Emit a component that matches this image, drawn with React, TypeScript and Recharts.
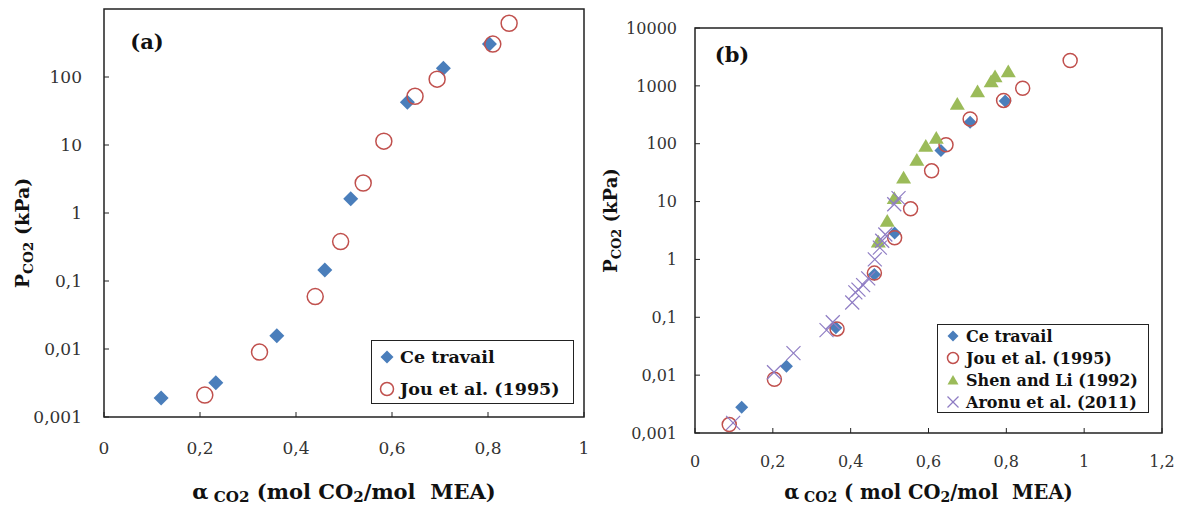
import React from "react";
import { ScatterChart, Scatter, XAxis, YAxis, ReferenceArea, Legend, Label } from "recharts";

// ---- panel (a) ----
const ceAlphaA = [0.119, 0.233, 0.36, 0.46, 0.514, 0.632, 0.707, 0.803];
const cePressA = [0.0019, 0.0032, 0.0157, 0.145, 1.62, 42.5, 134, 305];
const jouAlphaA = [0.21, 0.324, 0.44, 0.493, 0.54, 0.583, 0.648, 0.694, 0.81, 0.844];
const jouPressA = [0.0021, 0.009, 0.059, 0.38, 2.76, 11.4, 52, 93, 305, 616];

// ---- panel (b) ----
const ceAlphaB = [0.12, 0.235, 0.362, 0.461, 0.513, 0.632, 0.707, 0.797];
const cePressB = [0.0028, 0.0143, 0.066, 0.55, 2.85, 76, 234, 545];
const jouAlphaB = [0.088, 0.204, 0.365, 0.461, 0.513, 0.554, 0.608, 0.645, 0.707, 0.793, 0.842, 0.964];
const jouPressB = [0.0014, 0.0085, 0.063, 0.58, 2.37, 7.5, 34, 96, 267, 560, 910, 2740];
const shenAlpha = [0.471, 0.494, 0.512, 0.536, 0.57, 0.593, 0.62, 0.674, 0.726, 0.761, 0.771, 0.805];
const shenPress = [2.04, 4.65, 11.5, 26, 53, 92, 127, 490, 810, 1200, 1470, 1790];
const aronuAlpha = [0.098, 0.203, 0.253, 0.338, 0.354, 0.404, 0.412, 0.42, 0.432, 0.445, 0.462, 0.475, 0.481, 0.489, 0.512, 0.523];
const aronuPress = [0.0015, 0.0112, 0.024, 0.06, 0.082, 0.18, 0.27, 0.3, 0.36, 0.47, 1.0, 1.6, 2.1, 2.7, 9.0, 11.5];

const xTicksA = [0, 0.2, 0.4, 0.6, 0.8, 1];
const yTicksA = [0.001, 0.01, 0.1, 1, 10, 100];
const xTicksB = [0, 0.2, 0.4, 0.6, 0.8, 1, 1.2];
const yTicksB = [0.001, 0.01, 0.1, 1, 10, 100, 1000, 10000];

const CE = "Ce travail";
const JOU = "Jou et al. (1995)";
const SHEN = "Shen and Li (1992)";
const ARONU = "Aronu et al. (2011)";

const BLUE = "#4a7ebb";
const RED = "#c0504d";
const GREEN = "#9bbb59";
const PURPLE = "#8e7cc3";
const INK = "#222";
const SERIF = "'DejaVu Serif', serif";

const toPoints = (xs: number[], ys: number[]) => xs.map((a, i) => ({ alpha: a, p: ys[i] }));
const fmt = (v: number) => String(v).replace(".", ",");

function marker(name: string, cx: number, cy: number, s: number) {
  if (name === CE)
    return <path d={`M${cx},${cy - s}L${cx + s},${cy}L${cx},${cy + s}L${cx - s},${cy}Z`} fill={BLUE} />;
  if (name === JOU)
    return <circle cx={cx} cy={cy} r={s} fill="none" stroke={RED} strokeWidth={1.5} />;
  if (name === SHEN)
    return <path d={`M${cx},${cy - s * 0.9}L${cx + s},${cy + s * 0.8}L${cx - s},${cy + s * 0.8}Z`} fill={GREEN} />;
  return (
    <g stroke={PURPLE} strokeWidth={1.2}>
      <line x1={cx - s} y1={cy - s} x2={cx + s} y2={cy + s} />
      <line x1={cx - s} y1={cy + s} x2={cx + s} y2={cy - s} />
    </g>
  );
}

const shape = (name: string, s: number) => (props: any) => marker(name, props.cx, props.cy, s);

function LegendBox({ payload, order, fontSize, rowH, mark }: any) {
  const items = [...(payload || [])].sort((a: any, b: any) => order.indexOf(a.value) - order.indexOf(b.value));
  return (
    <div style={{ border: `1.5px solid ${INK}`, background: "#fff", boxSizing: "border-box", height: "100%" }}>
      {items.map((e: any) => (
        <div key={e.value} style={{ display: "flex", alignItems: "center", height: rowH, fontFamily: SERIF, fontWeight: "bold", fontSize, color: "#111", whiteSpace: "nowrap" }}>
          <svg width={26} height={rowH} style={{ flex: "none", marginLeft: 2 }}>
            {marker(e.value, 13, rowH / 2, mark)}
          </svg>
          <span>{e.value}</span>
        </div>
      ))}
    </div>
  );
}

function XTitle({ viewBox, dyBase, fontSize, open }: any) {
  const cx = viewBox.x + viewBox.width / 2;
  const y = viewBox.y + dyBase;
  const sub = fontSize * 0.72;
  return (
    <text x={cx} y={y} textAnchor="middle" fontFamily={SERIF} fontWeight="bold" fontSize={fontSize} fill="#111" style={{ whiteSpace: "pre" }}>
      α<tspan fontSize={sub} dy={3}> CO2</tspan>
      <tspan dy={-3}>{` ${open}mol CO`}</tspan>
      <tspan fontSize={sub} dy={3}>2</tspan>
      <tspan dy={-3}>/mol  MEA)</tspan>
    </text>
  );
}

function YTitle({ viewBox, xPos, yShift, fontSize }: any) {
  const x = viewBox.x + xPos;
  const y = viewBox.y + viewBox.height / 2 + yShift;
  const sub = fontSize * 0.72;
  return (
    <text x={x} y={y} transform={`rotate(-90, ${x}, ${y})`} textAnchor="middle" fontFamily={SERIF} fontWeight="bold" fontSize={fontSize} fill="#111">
      P<tspan fontSize={sub} dy={4}>CO2</tspan>
      <tspan dy={-4}> (kPa)</tspan>
    </text>
  );
}

function PanelA() {
  const ce = toPoints(ceAlphaA, cePressA);
  const jou = toPoints(jouAlphaA, jouPressA);
  return (
    <ScatterChart width={590} height={508} margin={{ top: 9, right: 6, bottom: 0, left: 0 }}>
      <ReferenceArea x1={0} x2={1} y1={0.001} y2={1000} fill="none" stroke={INK} strokeWidth={1.5} />
      <XAxis type="number" dataKey="alpha" domain={[0, 1]} ticks={xTicksA} interval={0} height={91}
        tickFormatter={fmt} axisLine={false} tickSize={-5} tickMargin={30} tickLine={{ stroke: INK }}
        tick={{ fill: "#333", fontSize: 17, fontFamily: SERIF }}>
        <Label content={(p: any) => <XTitle {...p} dyBase={82} fontSize={21} open="(" />} />
      </XAxis>
      <YAxis type="number" dataKey="p" scale="log" domain={[0.001, 1000]} allowDataOverflow ticks={yTicksA} interval={0} width={104}
        tickFormatter={fmt} axisLine={false} tickSize={-5} tickMargin={27} tickLine={{ stroke: INK }}
        tick={{ fill: "#333", fontSize: 17, fontFamily: SERIF }}>
        <Label content={(p: any) => <YTitle {...p} xPos={29} yShift={20} fontSize={19} />} />
      </YAxis>
      <Scatter name={CE} data={ce} shape={shape(CE, 7.5)} isAnimationActive={false} />
      <Scatter name={JOU} data={jou} shape={shape(JOU, 8)} isAnimationActive={false} />
      <text x={147} y={49} textAnchor="middle" fontFamily={SERIF} fontWeight="bold" fontSize={21} fill="#111">(a)</text>
      <Legend layout="vertical" align="center" verticalAlign="middle"
        wrapperStyle={{ left: 371, top: 340, width: 203, height: 64 }}
        content={(p: any) => <LegendBox {...p} order={[CE, JOU]} fontSize={17.5} rowH={32} mark={6.5} />} />
    </ScatterChart>
  );
}

function PanelB() {
  const ce = toPoints(ceAlphaB, cePressB);
  const jou = toPoints(jouAlphaB, jouPressB);
  const shen = toPoints(shenAlpha, shenPress);
  const aronu = toPoints(aronuAlpha, aronuPress);
  return (
    <ScatterChart width={592} height={508} margin={{ top: 28, right: 20, bottom: 0, left: 0 }}>
      <ReferenceArea x1={0} x2={1.2} y1={0.001} y2={10000} fill="none" stroke={INK} strokeWidth={1.5} />
      <XAxis type="number" dataKey="alpha" domain={[0, 1.2]} ticks={xTicksB} interval={0} height={75}
        tickFormatter={fmt} axisLine={false} tickSize={-5} tickMargin={28} tickLine={{ stroke: INK }}
        tick={{ fill: "#333", fontSize: 16, fontFamily: SERIF }}>
        <Label content={(p: any) => <XTitle {...p} dyBase={66} fontSize={19.5} open="( " />} />
      </XAxis>
      <YAxis type="number" dataKey="p" scale="log" domain={[0.001, 10000]} allowDataOverflow ticks={yTicksB} interval={0} width={105}
        tickFormatter={fmt} axisLine={false} tickSize={-5} tickMargin={23} tickLine={{ stroke: INK }}
        tick={{ fill: "#333", fontSize: 16, fontFamily: SERIF }}>
        <Label content={(p: any) => <YTitle {...p} xPos={27} yShift={-10} fontSize={18} />} />
      </YAxis>
      <Scatter name={CE} data={ce} shape={shape(CE, 6.5)} isAnimationActive={false} />
      <Scatter name={JOU} data={jou} shape={shape(JOU, 7)} isAnimationActive={false} />
      <Scatter name={SHEN} data={shen} shape={shape(SHEN, 7.5)} isAnimationActive={false} />
      <Scatter name={ARONU} data={aronu} shape={shape(ARONU, 7)} isAnimationActive={false} />
      <text x={142} y={62} textAnchor="middle" fontFamily={SERIF} fontWeight="bold" fontSize={21} fill="#111">(b)</text>
      <Legend layout="vertical" align="center" verticalAlign="middle"
        wrapperStyle={{ left: 347, top: 324, width: 212, height: 89 }}
        content={(p: any) => <LegendBox {...p} order={[CE, JOU, SHEN, ARONU]} fontSize={16} rowH={22} mark={5.5} />} />
    </ScatterChart>
  );
}

export default function App() {
  return (
    <div style={{ position: "absolute", left: 0, top: 0, width: 1182, height: 508, background: "#fff" }}>
      <div style={{ position: "absolute", left: 0, top: 0 }}>
        <PanelA />
      </div>
      <div style={{ position: "absolute", left: 590, top: 0 }}>
        <PanelB />
      </div>
    </div>
  );
}
